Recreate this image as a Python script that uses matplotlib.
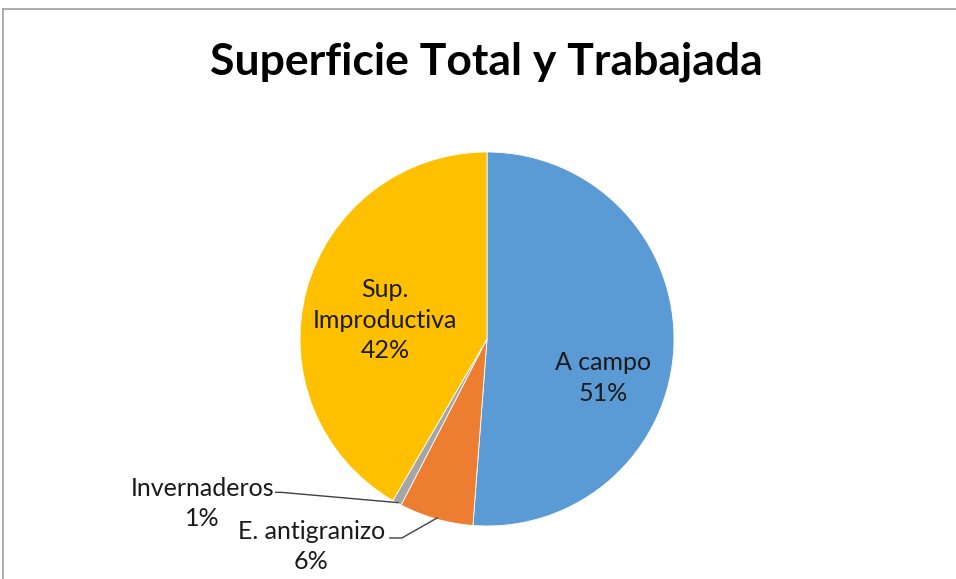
import matplotlib
matplotlib.use("Agg")
import matplotlib.pyplot as plt
from matplotlib.lines import Line2D

categories = ["A campo", "E. antigranizo", "Invernaderos", "Sup.\nImproductiva"]
values = [51.2, 6.4, 0.8, 41.6]
colors = ["#5B9BD5", "#ED7D31", "#A5A5A5", "#FFC000"]
title = "Superficie Total y Trabajada"

plt.rcParams['font.family'] = ['Lato', 'DejaVu Sans']

W, H = 956, 579
fig = plt.figure(figsize=(W / 100, H / 100), dpi=100)
fig.patch.set_facecolor("white")

# chart frame (partially visible)
fig.add_artist(Line2D([3 / W, 1], [1 - 9 / H, 1 - 9 / H], color="#A0A0A0", lw=1.2, transform=fig.transFigure))
fig.add_artist(Line2D([3 / W, 3 / W], [0, 1 - 9 / H], color="#A0A0A0", lw=1.2, transform=fig.transFigure))

fig.text(486 / W, 1 - 62 / H, title, ha="center", va="center", fontsize=32, fontweight="bold", color="black")

cx, cy, R = 487, 339, 187
ax = fig.add_axes([(cx - R) / W, (H - cy - R) / H, 2 * R / W, 2 * R / H])
wedges, _ = ax.pie(values, colors=colors, startangle=90, counterclock=False, radius=1,
                   wedgeprops=dict(edgecolor="white", linewidth=0.6))
ax.set_xlim(-1, 1)
ax.set_ylim(-1, 1)
ax.set_aspect("equal")
ax.axis("off")

pct = [f"{round(v)}%" for v in values]
lbl = [f"{c}\n{p}" for c, p in zip(categories, pct)]

fs = 18
ls = 1.4
tc = "#1a1a1a"
ax.text(0.62, -0.21, lbl[0], ha="center", va="center", fontsize=fs, color=tc, linespacing=ls)
ax.text(-0.545, 0.10, lbl[3], ha="center", va="center", fontsize=fs, color=tc, linespacing=ls)
ax.text(-1.52, -0.88, lbl[2], ha="center", va="center", fontsize=fs, color=tc, linespacing=ls, clip_on=False)
ax.text(-0.94, -1.11, lbl[1], ha="center", va="center", fontsize=fs, color=tc, linespacing=ls, clip_on=False)

ax.plot([-1.13, -1.10, -0.476], [-0.82, -0.82, -0.875], color="#404040", lw=1, clip_on=False)
ax.plot([-0.52, -0.455, -0.267], [-1.064, -1.064, -0.957], color="#404040", lw=1, clip_on=False)

fig.savefig("out.png", dpi=100)
